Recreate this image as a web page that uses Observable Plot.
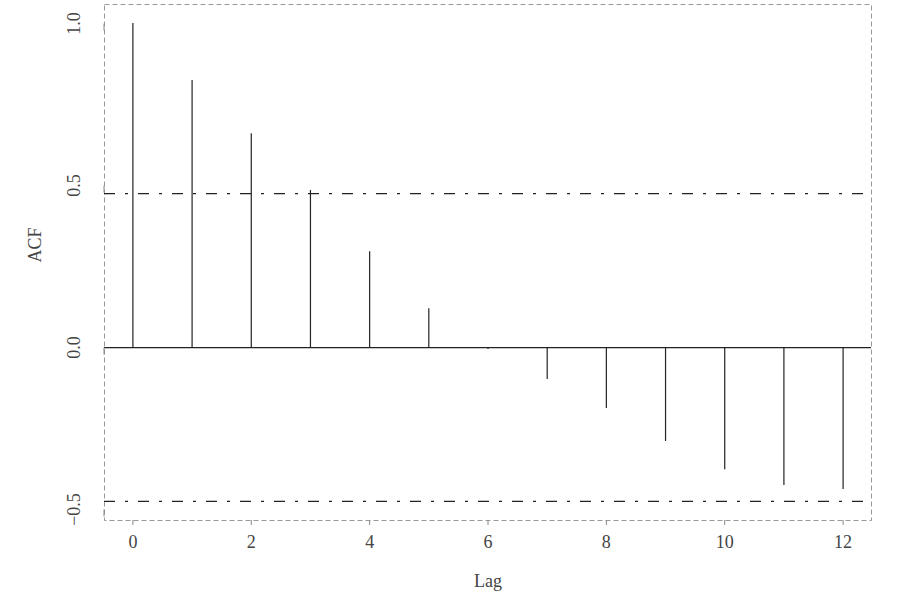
<!DOCTYPE html>
<html>
<head>
<meta charset="utf-8">
<script src="https://cdn.jsdelivr.net/npm/d3@7"></script>
<script src="https://cdn.jsdelivr.net/npm/@observablehq/plot@0.6"></script>
<style>
  html, body { margin: 0; padding: 0; background: #fff; }
  #chart svg { display: block; }
</style>
</head>
<body>
<div id="chart"></div>
<script>
const lags = [0, 1, 2, 3, 4, 5, 6, 7, 8, 9, 10, 11, 12];
const acfValues = [1.0, 0.824, 0.660, 0.485, 0.296, 0.120, -0.006, -0.099, -0.188, -0.290, -0.377, -0.426, -0.438];
const ciBound = 0.475;
const xTicks = [0, 2, 4, 6, 8, 10, 12];
const yTicks = [-0.5, 0, 0.5, 1.0];
const xLabel = "Lag";
const yLabel = "ACF";

const data = lags.map((lag, i) => ({lag, acf: acfValues[i]}));
const font = "'Liberation Serif', 'DejaVu Serif', serif";

const chart = Plot.plot({
  width: 900,
  height: 597,
  marginLeft: 104,
  marginRight: 29,
  marginTop: 4,
  marginBottom: 77,
  style: {fontFamily: font, fontSize: "18px", color: "#444", background: "#fff"},
  x: {domain: [-0.48, 12.48]},
  y: {domain: [-0.534, 1.059]},
  marks: [
    Plot.frame({stroke: "#999", strokeDasharray: "5,3"}),
    Plot.ruleY([0], {stroke: "#222", strokeWidth: 1.2}),
    Plot.ruleY([ciBound, -ciBound], {stroke: "#222", strokeWidth: 1.4, strokeDasharray: "11,10,3,10"}),
    Plot.ruleX(data, {x: "lag", y1: 0, y2: "acf", stroke: "#222", strokeWidth: 1.2}),
    Plot.axisX({ticks: xTicks, tickFormat: d => String(d), tickSize: 5, tickPadding: 10, stroke: "#888", fill: "#444", label: null}),
    Plot.axisY({ticks: yTicks, tickFormat: d => d.toFixed(1).replace("-", "\u2212"), tickSize: 7, tickPadding: 23, rotate: -90, textAnchor: "middle", stroke: "#888", fill: "#444", label: null}),
    Plot.text([yLabel], {frameAnchor: "left", dx: -69, rotate: -90, fill: "#444", fontSize: 18}),
    Plot.text([xLabel], {frameAnchor: "bottom", dy: 66, fill: "#444", fontSize: 18})
  ]
});
document.getElementById("chart").appendChild(chart);
</script>
</body>
</html>
